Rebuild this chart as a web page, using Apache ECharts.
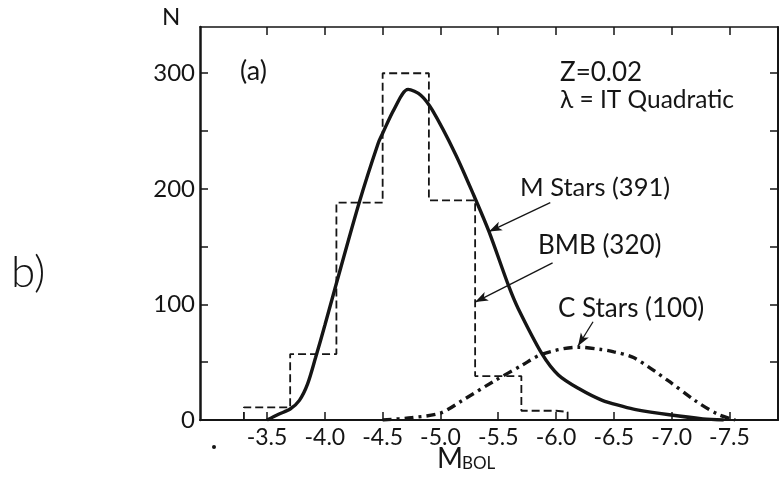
<!DOCTYPE html>
<html>
<head>
<meta charset="utf-8">
<script src="https://cdn.jsdelivr.net/npm/echarts@6/dist/echarts.min.js"></script>
<style>
  html, body { margin: 0; padding: 0; background: #fff; }
  #chart { width: 784px; height: 481px; }
</style>
</head>
<body>
<div id="chart"></div>
<script>
// Bolometric magnitude tick marks and N tick marks
const magTicks = [-3.5, -4.0, -4.5, -5.0, -5.5, -6.0, -6.5, -7.0, -7.5];
const nTicks = [0, 50, 100, 150, 200, 250, 300];
const nLabels = [0, 100, 200, 300];

// BMB histogram: bin edges (M_bol) and number per magnitude in each bin
const binEdges = [-3.3, -3.7, -4.1, -4.5, -4.9, -5.3, -5.7, -6.0, -6.1];
const binCounts = [11, 57, 188, 300, 190, 38, 8, 7];

// M stars model curve (M_bol, N)
const mStarMag = [-3.50, -3.60, -3.70, -3.78, -3.85, -3.92, -4.00, -4.08, -4.30, -4.46, -4.50, -4.60,
                  -4.72, -4.83, -4.93, -5.13, -5.29, -5.42, -5.59, -5.67, -5.88, -6.02, -6.20, -6.40,
                  -6.57, -6.69, -6.98, -7.27, -7.45];
const mStarN   = [0, 5, 9.5, 17, 31, 54, 82, 111, 189, 239, 248, 269,
                  286, 281, 268, 230, 194, 163, 116, 97, 57, 39, 27, 17,
                  12, 9, 4.5, 1, 0];

// C stars model curve (M_bol, N)
const cStarMag = [-4.50, -4.75, -5.00, -5.19, -5.47, -5.70, -5.88, -6.19, -6.39, -6.50, -6.67, -6.97, -7.20, -7.40, -7.55];
const cStarN   = [0, 2, 6, 17, 34, 47, 57, 63, 61, 59, 54, 34, 17, 5, 0];

const FONT = 'Lato, "Open Sans", "DejaVu Sans", sans-serif';
const INK = '#151515';

// outline of the histogram as a step path built from the bins
function stepPath(edges, counts) {
  const pts = [[edges[0], 0]];
  for (let i = 0; i < counts.length; i++) {
    pts.push([edges[i], counts[i]]);
    pts.push([edges[i + 1], counts[i]]);
  }
  pts.push([edges[edges.length - 1], 0]);
  return pts;
}
const zip = (xs, ys) => xs.map((x, i) => [x, ys[i]]);

const chart = echarts.init(document.getElementById('chart'), null, { renderer: 'canvas' });

const arrowStyle = { color: INK, width: 1.3, type: 'solid' };
function arrow(from, to) {
  return {
    silent: true,
    symbol: ['none', 'arrow'],
    symbolSize: [7, 13],
    lineStyle: arrowStyle,
    label: { show: false },
    emphasis: { disabled: true },
    data: [[{ coord: from }, { coord: to }]]
  };
}

const magAxisBase = {
  type: 'value',
  inverse: true,
  min: -7.92,
  max: -2.92,
  splitLine: { show: false },
  axisLine: { show: true, onZero: false, lineStyle: { color: INK, width: 2 } },
  axisTick: { show: true, inside: true, length: 8, customValues: magTicks, lineStyle: { color: INK, width: 1.5 } }
};
const nAxisBase = {
  type: 'value',
  min: 0,
  max: 340,
  splitLine: { show: false },
  axisLine: { show: true, onZero: false, lineStyle: { color: INK, width: 2 } },
  axisTick: { show: true, inside: true, length: 8, customValues: nTicks, lineStyle: { color: INK, width: 1.5 } }
};

const txt = (text, x, y, size, weight) => ({
  type: 'text', x: x, y: y,
  style: { text: text, font: (weight || 400) + ' ' + size + 'px ' + FONT, fill: INK, textVerticalAlign: 'middle' }
});

chart.setOption({
  animation: false,
  backgroundColor: '#ffffff',
  grid: { left: 200, right: 6, top: 27, bottom: 61 },
  xAxis: [
    Object.assign({}, magAxisBase, {
      position: 'bottom',
      axisLabel: {
        show: true, customValues: magTicks, margin: 6,
        formatter: v => v.toFixed(1),
        fontFamily: FONT, fontSize: 23, fontWeight: 400, color: INK
      }
    }),
    Object.assign({}, magAxisBase, {
      position: 'top',
      axisLine: { show: true, onZero: false, lineStyle: { color: INK, width: 1.5 } },
      axisLabel: { show: false }
    })
  ],
  yAxis: [
    Object.assign({}, nAxisBase, {
      position: 'left',
      axisLine: { show: true, onZero: false, lineStyle: { color: INK, width: 2.5 } },
      axisLabel: {
        show: true, customValues: nLabels, margin: 5,
        fontFamily: FONT, fontSize: 24, fontWeight: 400, color: INK
      }
    }),
    Object.assign({}, nAxisBase, {
      position: 'right',
      axisLabel: { show: false }
    })
  ],
  series: [
    {
      name: 'BMB (320)',
      type: 'line',
      xAxisIndex: 0, yAxisIndex: 0,
      data: stepPath(binEdges, binCounts),
      symbol: 'none',
      lineStyle: { color: INK, width: 1.8, type: [8, 4] },
      z: 3,
      markLine: arrow([-5.97, 136], [-5.30, 102])
    },
    {
      name: 'M Stars (391)',
      type: 'line',
      xAxisIndex: 0, yAxisIndex: 0,
      data: zip(mStarMag, mStarN),
      symbol: 'none',
      smooth: 0.3,
      lineStyle: { color: INK, width: 3.4 },
      z: 4,
      markLine: arrow([-5.95, 188], [-5.42, 163])
    },
    {
      name: 'C Stars (100)',
      type: 'line',
      xAxisIndex: 0, yAxisIndex: 0,
      data: zip(cStarMag, cStarN),
      symbol: 'none',
      smooth: 0.3,
      lineStyle: { color: INK, width: 3.4, type: [9, 5, 3, 5] },
      z: 4,
      markLine: arrow([-6.32, 85], [-6.19, 64])
    }
  ],
  graphic: [
    txt('N', 162, 17, 24),
    txt('(a)', 240, 71, 27),
    txt('Z=0.02', 560, 73, 26),
    txt('λ = IT Quadratic', 560, 100, 24.5),
    txt('M Stars (391)', 520, 188, 25.5),
    txt('BMB (320)', 538, 246, 26),
    txt('C Stars (100)', 558, 309, 26),
    txt('M', 437, 459, 28),
    txt('BOL', 462, 464, 17),
    txt('b)', 11, 273, 44, 300),
    { type: 'circle', shape: { cx: 214, cy: 447, r: 2 }, style: { fill: INK } }
  ]
});
</script>
</body>
</html>
